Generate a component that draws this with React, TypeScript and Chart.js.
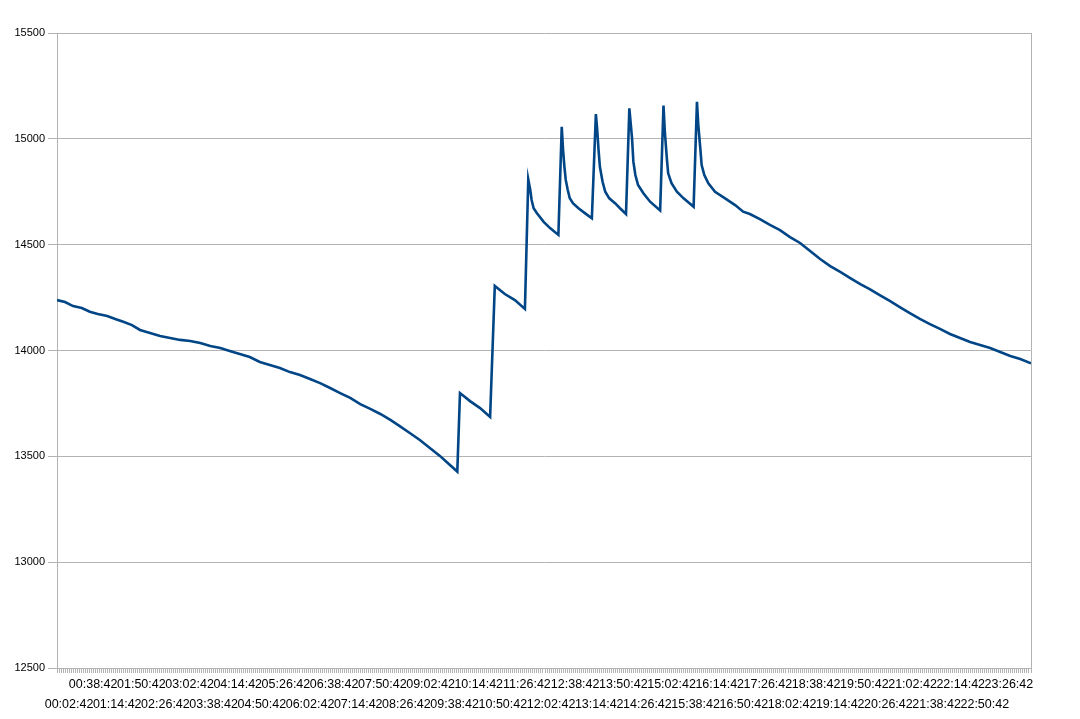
import React, { useEffect, useRef } from "react";
import { Chart, registerables } from "chart.js";

Chart.register(...registerables);

// minutes relative to 00:02:42
const times = [
  -18, -6, 6, 19, 31, 43, 57, 69, 81, 94, 106, 121, 136, 151, 166, 181, 196, 211, 226, 240,
  255, 270, 285, 300, 315, 330, 345, 360, 375, 390, 405, 420, 435, 450, 465, 480, 494, 509,
  524, 539, 554, 569, 580, 584, 599, 614, 629, 636, 651, 666, 681,
  686, 689, 691, 694, 699, 709, 719, 731,
  736, 738, 740, 742, 745, 748, 753, 761, 771, 781,
  787, 789, 791, 793, 797, 801, 807, 816, 823, 832,
  837, 841, 843, 846, 850, 858, 868, 883,
  888, 890, 893, 895, 900, 908, 918, 933,
  938, 940, 943, 945, 949, 955, 965, 980, 995, 1007,
  1017, 1032, 1047, 1062, 1077, 1092, 1107, 1122, 1137, 1152, 1167, 1182, 1196, 1211, 1226,
  1241, 1256, 1271, 1286, 1301, 1316, 1331, 1346, 1361, 1376, 1391, 1406, 1421, 1437,
];

const values = [
  14238, 14229, 14210, 14201, 14183, 14172, 14163, 14149, 14136, 14120, 14097, 14083, 14068,
  14059, 14050, 14045, 14035, 14021, 14012, 13998, 13983, 13969, 13946, 13931, 13917, 13898,
  13884, 13865, 13846, 13823, 13799, 13776, 13747, 13724, 13700, 13672, 13643, 13610, 13577,
  13539, 13502, 13459, 13428, 13799, 13761, 13728, 13686, 14305, 14267, 14238, 14196,
  14809, 14758, 14711, 14672, 14648, 14608, 14577, 14546,
  15057, 14947, 14868, 14806, 14758, 14719, 14695, 14672, 14648, 14625,
  15117, 15042, 14947, 14868, 14797, 14750, 14719, 14695, 14672, 14645,
  15144, 15003, 14892, 14829, 14782, 14743, 14703, 14662,
  15157, 15034, 14908, 14837, 14790, 14750, 14719, 14679,
  15175, 15065, 14955, 14876, 14829, 14790, 14750, 14719, 14687, 14656,
  14645, 14621, 14593, 14569, 14536, 14508, 14470, 14432, 14399, 14371, 14342, 14314, 14290,
  14262, 14234, 14205, 14177, 14149, 14125, 14102, 14078, 14059, 14040, 14026, 14012, 13993,
  13974, 13960, 13939,
];

const xMin = -18;
const xMax = 1437;
const labelEvery = 36;
const firstLabelMinutes = 2; // 00:02:42
const yMin = 12500;
const yMax = 15500;
const yStep = 500;

const GRID = "#b3b3b3";

function fmt(v: number): string {
  const total = firstLabelMinutes + v;
  const h = Math.floor(total / 60);
  const m = total % 60;
  return String(h).padStart(2, "0") + ":" + String(m).padStart(2, "0") + ":42";
}

const borderPlugin = {
  id: "rightBorder",
  afterDraw(chart: any) {
    const { ctx, chartArea } = chart;
    ctx.save();
    ctx.strokeStyle = GRID;
    ctx.lineWidth = 1;
    ctx.beginPath();
    ctx.moveTo(Math.round(chartArea.right) + 0.5, chartArea.top);
    ctx.lineTo(Math.round(chartArea.right) + 0.5, chartArea.bottom);
    ctx.stroke();
    ctx.restore();
  },
};

export default function App() {
  const ref = useRef<HTMLCanvasElement>(null);
  useEffect(() => {
    if (!ref.current) return;
    Chart.defaults.font.family = "'Liberation Sans', Arial, sans-serif";
    Chart.defaults.font.size = 12;
    Chart.defaults.color = "#000";
    const chart = new Chart(ref.current, {
      type: "line",
      data: {
        datasets: [
          {
            data: times.map((t, i) => ({ x: t, y: values[i] })),
            borderColor: "#004586",
            borderWidth: 2.6,
            pointRadius: 0,
            tension: 0,
            fill: false,
          },
        ],
      },
      options: {
        animation: false,
        responsive: true,
        maintainAspectRatio: false,
        layout: { padding: { left: 0, top: 33, right: 49, bottom: 0 } },
        plugins: { legend: { display: false }, tooltip: { enabled: false } },
        scales: {
          x: {
            type: "linear",
            min: xMin,
            max: xMax,
            afterFit: (s: any) => {
              s.height = 51;
            },
            grid: {
              drawOnChartArea: false,
              drawTicks: true,
              tickLength: 5,
              color: GRID,
            },
            border: { color: GRID },
            ticks: {
              stepSize: 3,
              autoSkip: false,
              maxRotation: 0,
              minRotation: 0,
              padding: 2,
              font: { size: 12.5, lineHeight: 1.56 },
              callback: (val: any) => {
                const v = Number(val);
                if (v >= 0 && v <= 1404 && v % labelEvery === 0) {
                  const k = v / labelEvery;
                  return k % 2 === 0 ? ["", fmt(v)] : [fmt(v)];
                }
                return "";
              },
            },
          },
          y: {
            min: yMin,
            max: yMax,
            afterFit: (s: any) => {
              s.width = 57;
            },
            grid: { color: GRID, tickLength: 9 },
            border: { color: GRID },
            ticks: {
              stepSize: yStep,
              padding: 3,
              font: { size: 11 },
              callback: (val: any) => String(val),
            },
          },
        },
      },
      plugins: [borderPlugin],
    });
    return () => chart.destroy();
  }, []);
  return (
    <div style={{ position: "fixed", left: 0, top: 0, width: 1080, height: 719, background: "#fff" }}>
      <canvas ref={ref} />
    </div>
  );
}
